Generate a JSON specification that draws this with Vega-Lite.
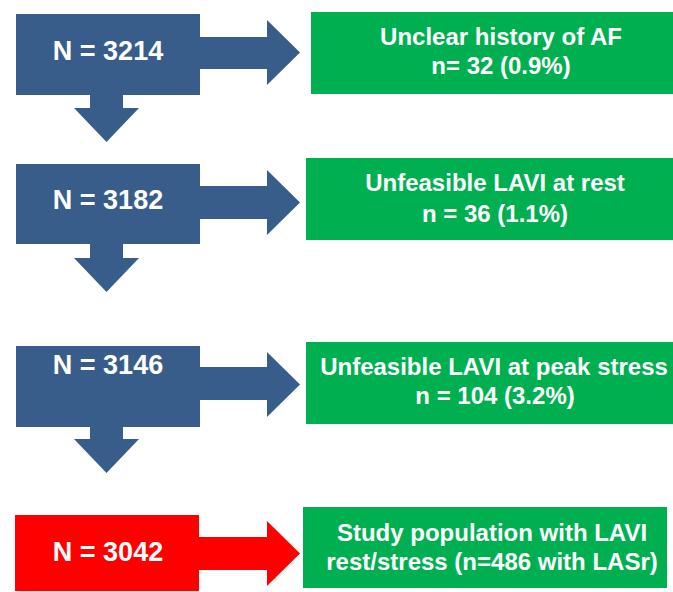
{
  "$schema": "https://vega.github.io/schema/vega-lite/v6.json",
  "width": 673,
  "height": 592,
  "autosize": {"type": "fit", "contains": "padding"},
  "padding": 0,
  "background": "white",
  "config": {"view": {"stroke": null}},
  "datasets": {
    "rects": [
      {"id": "b1", "x1": 16, "x2": 200, "y1": 14, "y2": 95, "kind": "flow"},
      {"id": "b1r", "x1": 199, "x2": 268, "y1": 37, "y2": 69, "kind": "flow"},
      {"id": "b1d", "x1": 90, "x2": 123, "y1": 94, "y2": 109, "kind": "flow"},
      {"id": "b2", "x1": 16, "x2": 200, "y1": 164, "y2": 244, "kind": "flow"},
      {"id": "b2r", "x1": 199, "x2": 268, "y1": 186, "y2": 219, "kind": "flow"},
      {"id": "b2d", "x1": 90, "x2": 123, "y1": 243, "y2": 259, "kind": "flow"},
      {"id": "b3", "x1": 16, "x2": 200, "y1": 346, "y2": 427, "kind": "flow"},
      {"id": "b3r", "x1": 199, "x2": 268, "y1": 367, "y2": 400, "kind": "flow"},
      {"id": "b3d", "x1": 90, "x2": 123, "y1": 426, "y2": 440, "kind": "flow"},
      {"id": "b4", "x1": 15, "x2": 199, "y1": 515, "y2": 591, "kind": "final"},
      {"id": "b4r", "x1": 198, "x2": 268, "y1": 537, "y2": 570, "kind": "final"},
      {"id": "g1", "x1": 311, "x2": 673, "y1": 12, "y2": 94, "kind": "excluded"},
      {"id": "g2", "x1": 306, "x2": 673, "y1": 158, "y2": 240, "kind": "excluded"},
      {"id": "g3", "x1": 306, "x2": 673, "y1": 342, "y2": 424, "kind": "excluded"},
      {"id": "g4", "x1": 303, "x2": 667, "y1": 507, "y2": 588, "kind": "excluded"}
    ],
    "rightHeads": [
      {"id": "h1", "x": 267, "ylo": 20, "yhi": 85, "kind": "flow"},
      {"id": "h1", "x": 300, "ylo": 52.5, "yhi": 52.5, "kind": "flow"},
      {"id": "h2", "x": 267, "ylo": 170, "yhi": 235, "kind": "flow"},
      {"id": "h2", "x": 300, "ylo": 202.5, "yhi": 202.5, "kind": "flow"},
      {"id": "h3", "x": 267, "ylo": 352, "yhi": 417, "kind": "flow"},
      {"id": "h3", "x": 300, "ylo": 384.5, "yhi": 384.5, "kind": "flow"},
      {"id": "h4", "x": 267, "ylo": 521, "yhi": 586, "kind": "final"},
      {"id": "h4", "x": 300, "ylo": 553.5, "yhi": 553.5, "kind": "final"}
    ],
    "downHeads": [
      {"id": "d1", "y": 108, "xlo": 74, "xhi": 139, "kind": "flow"},
      {"id": "d1", "y": 142, "xlo": 106.5, "xhi": 106.5, "kind": "flow"},
      {"id": "d2", "y": 258, "xlo": 74, "xhi": 139, "kind": "flow"},
      {"id": "d2", "y": 292, "xlo": 106.5, "xhi": 106.5, "kind": "flow"},
      {"id": "d3", "y": 439, "xlo": 74, "xhi": 139, "kind": "flow"},
      {"id": "d3", "y": 473, "xlo": 106.5, "xhi": 106.5, "kind": "flow"}
    ],
    "counts": [
      {"x": 108, "y": 52, "label": "N = 3214"},
      {"x": 108, "y": 201, "label": "N = 3182"},
      {"x": 108, "y": 366, "label": "N = 3146"},
      {"x": 108, "y": 553, "label": "N = 3042"}
    ],
    "notes": [
      {"x": 501, "y": 38, "label": "Unclear history of AF"},
      {"x": 501, "y": 67, "label": "n= 32 (0.9%)"},
      {"x": 495, "y": 184, "label": "Unfeasible LAVI at rest"},
      {"x": 495, "y": 215, "label": "n = 36 (1.1%)"},
      {"x": 494, "y": 368, "label": "Unfeasible LAVI at peak stress"},
      {"x": 495, "y": 397, "label": "n = 104 (3.2%)"},
      {"x": 492, "y": 534, "label": "Study population with LAVI"},
      {"x": 492, "y": 563, "label": "rest/stress (n=486 with LASr)"}
    ]
  },
  "layer": [
    {
      "data": {"name": "rects"},
      "mark": {"type": "rect"},
      "encoding": {
        "x": {"field": "x1", "type": "quantitative", "scale": {"domain": [0, 673], "nice": false, "zero": false}, "axis": null},
        "x2": {"field": "x2"},
        "y": {"field": "y1", "type": "quantitative", "scale": {"domain": [0, 592], "nice": false, "zero": false, "reverse": true}, "axis": null},
        "y2": {"field": "y2"},
        "color": {"field": "kind", "type": "nominal", "scale": {"domain": ["flow", "final", "excluded"], "range": ["#385D8A", "#FF0000", "#00B050"]}, "legend": null}
      }
    },
    {
      "data": {"name": "rightHeads"},
      "mark": {"type": "area", "orient": "vertical"},
      "encoding": {
        "x": {"field": "x", "type": "quantitative", "scale": {"domain": [0, 673], "nice": false, "zero": false}, "axis": null},
        "y": {"field": "ylo", "type": "quantitative", "stack": null, "scale": {"domain": [0, 592], "nice": false, "zero": false, "reverse": true}, "axis": null},
        "y2": {"field": "yhi"},
        "detail": {"field": "id"},
        "color": {"field": "kind", "type": "nominal", "scale": {"domain": ["flow", "final", "excluded"], "range": ["#385D8A", "#FF0000", "#00B050"]}, "legend": null}
      }
    },
    {
      "data": {"name": "downHeads"},
      "mark": {"type": "area", "orient": "horizontal"},
      "encoding": {
        "y": {"field": "y", "type": "quantitative", "scale": {"domain": [0, 592], "nice": false, "zero": false, "reverse": true}, "axis": null},
        "x": {"field": "xlo", "type": "quantitative", "stack": null, "scale": {"domain": [0, 673], "nice": false, "zero": false}, "axis": null},
        "x2": {"field": "xhi"},
        "detail": {"field": "id"},
        "color": {"field": "kind", "type": "nominal", "scale": {"domain": ["flow", "final", "excluded"], "range": ["#385D8A", "#FF0000", "#00B050"]}, "legend": null}
      }
    },
    {
      "data": {"name": "counts"},
      "mark": {"type": "text", "font": "Liberation Sans", "fontWeight": "bold", "fontSize": 27, "color": "white", "align": "center", "baseline": "middle"},
      "encoding": {
        "x": {"field": "x", "type": "quantitative", "scale": {"domain": [0, 673], "nice": false, "zero": false}, "axis": null},
        "y": {"field": "y", "type": "quantitative", "scale": {"domain": [0, 592], "nice": false, "zero": false, "reverse": true}, "axis": null},
        "text": {"field": "label"}
      }
    },
    {
      "data": {"name": "notes"},
      "mark": {"type": "text", "font": "Liberation Sans", "fontWeight": "bold", "fontSize": 24, "color": "white", "align": "center", "baseline": "middle"},
      "encoding": {
        "x": {"field": "x", "type": "quantitative", "scale": {"domain": [0, 673], "nice": false, "zero": false}, "axis": null},
        "y": {"field": "y", "type": "quantitative", "scale": {"domain": [0, 592], "nice": false, "zero": false, "reverse": true}, "axis": null},
        "text": {"field": "label"}
      }
    }
  ]
}
